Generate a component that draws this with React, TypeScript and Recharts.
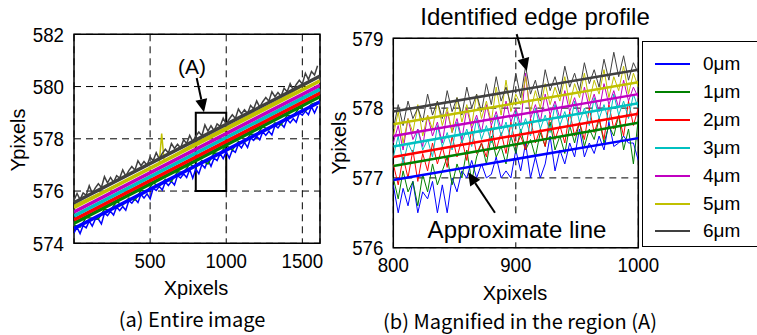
import React from "react";
import { CartesianGrid, Line, LineChart, ReferenceArea, ReferenceLine, XAxis, YAxis } from "recharts";

// series names and colours (Matlab-like)
const seriesNames = ["0μm", "1μm", "2μm", "3μm", "4μm", "5μm", "6μm"];
const seriesColors = ["#0000ff", "#008000", "#ff0000", "#00c0c0", "#c000c0", "#c0c000", "#404040"];

// (a) entire image: approximate lines at x = 0 and x = 1616
const entireX = [0, 1616];
const entireStart = [574.57, 574.77, 574.9, 575.05, 575.2, 575.37, 575.55];
const entireEnd = [579.42, 579.62, 579.75, 579.9, 580.05, 580.22, 580.4];

// (a) identified edge profiles
const entryX20 = [
  0, 20, 40, 60, 80, 100, 120, 140, 160, 180, 200, 220, 240, 260, 280, 300, 320, 340, 360, 380,
  400, 420, 440, 460, 480, 500, 520, 540, 560, 580, 600, 620, 640, 660, 680, 700, 720, 740, 760, 780,
  800, 820, 840, 860, 880, 900, 920, 940, 960, 980, 1000, 1020, 1040, 1060, 1080, 1100, 1120, 1140, 1160, 1180,
  1200, 1220, 1240, 1260, 1280, 1300, 1320, 1340, 1360, 1380, 1400, 1420, 1440, 1460, 1480, 1500, 1520, 1540, 1560, 1580,
  1600,
];
const entireBlue = [
  574.4, 574.61, 574.37, 574.68, 574.59, 574.85, 574.66, 574.92, 574.93, 574.74,
  575.15, 575.06, 575.22, 575.08, 575.39, 575.25, 575.41, 575.27, 575.63, 575.54,
  575.7, 575.56, 575.87, 575.73, 575.89, 575.7, 576.11, 576.02, 576.18, 576.04,
  576.35, 576.21, 576.37, 576.23, 576.59, 576.5, 576.66, 576.52, 576.83, 576.49,
  576.85, 576.66, 577.02, 576.88, 577.19, 576.95, 577.26, 577.17, 577.43, 577.24,
  577.5, 577.26, 577.57, 577.48, 577.79, 577.65, 577.86, 577.67, 578.03, 577.94,
  578.1, 577.96, 578.27, 578.13, 578.29, 578.15, 578.51, 578.42, 578.58, 578.44,
  578.75, 578.61, 578.77, 578.63, 578.99, 578.9, 579.06, 578.92, 579.23, 578.99,
  579.25,
];
const entireGray = [
  575.65, 575.91, 575.67, 575.93, 575.84, 576.2, 575.91, 576.12, 576.28, 576.14,
  576.55, 576.31, 576.52, 576.33, 576.59, 576.5, 576.81, 576.57, 576.78, 576.94,
  576.8, 577.16, 576.97, 577.13, 576.99, 577.3, 577.16, 577.47, 577.23, 577.44,
  577.6, 577.46, 577.82, 577.63, 577.79, 577.65, 577.96, 577.82, 578.13, 577.89,
  578.1, 578.26, 578.12, 578.53, 578.29, 578.5, 578.31, 578.57, 578.48, 578.79,
  578.55, 578.76, 578.92, 578.78, 579.14, 578.95, 579.11, 578.97, 579.28, 579.14,
  579.45, 579.21, 579.42, 579.58, 579.44, 579.8, 579.61, 579.77, 579.63, 579.94,
  579.8, 580.11, 579.87, 580.08, 580.24, 580.1, 580.51, 580.27, 580.58, 580.44,
  580.8,
];
const entryX40 = [
  0, 40, 80, 120, 160, 200, 240, 280, 320, 360, 400, 440, 480, 520, 560, 600, 640, 680, 720, 760,
  800, 840, 880, 920, 960, 1000, 1040, 1080, 1120, 1160, 1200, 1240, 1280, 1320, 1360, 1400, 1440, 1480, 1520, 1560,
  1600,
];
const entireGreen = [
  574.7, 574.62, 574.99, 574.96, 574.93, 575.3, 575.27, 575.59, 575.46, 575.73,
  575.65, 576.02, 575.99, 576.31, 576.18, 576.45, 576.37, 576.74, 576.71, 577.03,
  576.9, 577.17, 577.04, 577.46, 577.43, 577.75, 577.57, 577.89, 577.86, 578.18,
  578.15, 578.47, 578.34, 578.61, 578.53, 578.9, 578.87, 579.19, 579.06, 579.33,
  579.4,
];
const yellowX = [0, 200, 400, 540, 560, 576, 592, 620, 800, 1000, 1200, 1400, 1600];
const entireYellow = [575.45, 576.0, 576.6, 577.0, 577.05, 578.2, 577.15, 577.25, 577.85, 578.45, 579.05, 579.65, 580.35];

// (b) magnified region (A): approximate lines at 800 and 1000
const zoomX = [800, 1000];
const zoomStart = [576.97, 577.17, 577.3, 577.45, 577.6, 577.77, 577.95];
const zoomEnd = [577.57, 577.79, 577.92, 578.07, 578.2, 578.37, 578.55];

// (b) identified edge profiles every 4 px
const profileX = [
  800, 804, 808, 812, 816, 820, 824, 828, 832, 836, 840, 844, 848, 852, 856, 860, 864, 868, 872, 876,
  880, 884, 888, 892, 896, 900, 904, 908, 912, 916, 920, 924, 928, 932, 936, 940, 944, 948, 952, 956,
  960, 964, 968, 972, 976, 980, 984, 988, 992, 996, 1000,
];
const profile0 = [
  576.9, 576.5, 576.85, 576.6, 576.95, 576.5, 576.8, 576.7, 576.95, 576.5, 576.9, 576.5, 577.0, 576.8, 577.1, 577.0, 577.25,
  577.0, 577.2, 577.0, 577.05, 577.3, 577.0, 577.1, 577.0, 577.4, 577.1, 577.5, 577.0, 577.3, 577.0, 577.2, 577.6, 577.1,
  577.4, 577.2, 577.5, 577.3, 577.7, 577.3, 577.5, 577.35, 577.6, 577.4, 577.8, 577.45, 577.5, 577.6, 577.5, 577.5, 577.25,
];
const profile1 = [
  577.0, 576.7, 577.1, 576.8, 576.95, 576.6, 577.05, 576.8, 577.2, 576.9, 577.1, 577.3, 576.9, 577.2, 577.0, 577.4, 576.95,
  577.3, 577.5, 577.2, 577.6, 577.3, 577.45, 577.2, 577.6, 577.35, 577.7, 577.4, 577.55, 577.3, 577.65, 577.45, 577.8, 577.4,
  577.6, 577.35, 577.75, 577.5, 577.8, 577.45, 577.7, 577.55, 577.85, 577.5, 577.75, 577.6, 577.9, 577.4, 577.7, 577.2, 577.85,
];
const profile2 = [
  577.2, 576.9, 577.3, 577.0, 577.4, 576.95, 577.35, 577.1, 577.5, 577.2, 577.45, 577.15, 577.6, 577.3, 577.55, 577.25, 577.7,
  577.35, 577.5, 577.3, 577.75, 577.4, 577.65, 577.35, 577.8, 577.45, 577.6, 577.4, 577.85, 577.5, 577.7, 577.45, 577.9, 577.55,
  577.75, 577.5, 577.95, 577.6, 577.8, 577.55, 578.0, 577.65, 577.85, 577.55, 578.05, 577.7, 577.9, 577.6, 578.1, 577.75, 578.0,
];
const profile3 = [
  577.3, 577.6, 577.2, 577.5, 577.35, 577.7, 577.4, 577.55, 577.3, 577.75, 577.45, 577.65, 577.4, 577.8, 577.5, 577.7, 577.45,
  577.85, 577.55, 577.75, 577.5, 577.9, 577.6, 577.8, 577.55, 577.95, 577.65, 577.85, 577.6, 578.0, 577.7, 577.9, 577.65, 578.05,
  577.75, 577.95, 577.7, 578.1, 577.8, 578.0, 577.75, 578.15, 577.85, 578.05, 577.8, 578.2, 577.9, 578.1, 577.85, 578.2, 578.0,
];
const profile4 = [
  577.5, 577.75, 577.4, 577.85, 577.55, 577.7, 577.45, 577.9, 577.6, 577.8, 577.5, 577.95, 577.65, 577.85, 577.55, 578.0, 577.7,
  577.9, 577.65, 578.05, 577.75, 577.95, 577.7, 578.1, 577.8, 578.0, 577.75, 578.5, 577.85, 578.05, 577.8, 578.2, 577.9, 578.1,
  577.85, 578.25, 577.95, 578.15, 577.9, 578.3, 578.0, 578.2, 577.95, 578.35, 578.05, 578.25, 578.0, 578.4, 578.1, 578.3, 578.15,
];
const profile5 = [
  577.6, 577.95, 577.5, 577.85, 577.65, 578.05, 577.6, 577.9, 577.7, 578.1, 577.75, 578.0, 577.65, 578.15, 577.8, 578.05, 577.75,
  578.2, 577.85, 578.1, 577.8, 578.3, 577.9, 578.4, 577.95, 578.2, 578.05, 578.45, 577.95, 578.25, 578.0, 578.35, 578.05, 578.3,
  578.1, 578.45, 578.05, 578.35, 578.15, 578.5, 578.1, 578.4, 578.2, 578.55, 578.15, 578.45, 578.25, 578.6, 578.2, 578.5, 578.3,
];
const profile6 = [
  577.7, 578.05, 577.75, 578.1, 577.85, 578.0, 577.8, 578.2, 577.9, 578.1, 577.85, 578.25, 577.95, 578.15, 577.9, 578.3, 578.0,
  578.2, 577.95, 578.35, 578.05, 578.45, 578.1, 578.3, 578.05, 578.5, 578.15, 578.6, 578.2, 578.4, 578.1, 578.55, 578.25, 578.45,
  578.2, 578.6, 578.3, 578.5, 578.25, 578.65, 578.35, 578.55, 578.3, 578.7, 578.4, 578.8, 578.45, 578.75, 578.4, 578.65, 578.5,
];
const profiles = [profile0, profile1, profile2, profile3, profile4, profile5, profile6];

const leftTicksX = [500, 1000, 1500];
const leftTicksY = [574, 576, 578, 580, 582];
const rightTicksX = [800, 900, 1000];
const rightTicksY = [576, 577, 578, 579];

const FONT = "'Liberation Sans', Arial, sans-serif";
const JP = "'Noto Sans CJK JP', sans-serif";

const toPoints = (xs: number[], ys: number[]) => xs.map((x, i) => ({ x, y: ys[i] }));

// narrow-looking tick labels as in the original
const XTick = (p: any) => (
  <text transform={`translate(${p.x},${p.y + 17}) scale(0.89,1)`} textAnchor="middle" dominantBaseline="central" fontSize={21} fontFamily={FONT} fill="#000">
    {p.payload.value}
  </text>
);
const YTick = (p: any) => (
  <text transform={`translate(${p.x - 10},${p.y}) scale(0.89,1)`} textAnchor="end" dominantBaseline="central" fontSize={21} fontFamily={FONT} fill="#000">
    {p.payload.value}
  </text>
);

const arrowShape = (p: any) => {
  const { x1, y1, x2, y2 } = p;
  const a = Math.atan2(y2 - y1, x2 - x1);
  const L = 13;
  const W = 6;
  const bx = x2 - L * Math.cos(a);
  const by = y2 - L * Math.sin(a);
  const pts = `${x2},${y2} ${bx + W * Math.sin(a)},${by - W * Math.cos(a)} ${bx - W * Math.sin(a)},${by + W * Math.cos(a)}`;
  return (
    <g>
      <line x1={x1} y1={y1} x2={bx} y2={by} stroke="#000" strokeWidth={2} />
      <polygon points={pts} fill="#000" />
    </g>
  );
};

const abs = (s: React.CSSProperties): React.CSSProperties => ({ position: "absolute", whiteSpace: "nowrap", ...s });

export default function App() {
  return (
    <div style={{ position: "absolute", left: 0, top: 0, width: 757, height: 335, background: "#fff", overflow: "hidden" }}>
      {/* (a) Entire image */}
      <div style={abs({ left: 0, top: 0 })}>
        <LineChart width={340} height={300} margin={{ top: 34.3, right: 20, bottom: 26.7, left: 0 }}>
          <CartesianGrid stroke="#000" strokeDasharray="7 5" strokeWidth={1} />
          <XAxis type="number" dataKey="x" domain={[0, 1616]} ticks={leftTicksX} axisLine={false} tickLine={false} tickSize={0} tickMargin={0} height={30} tick={<XTick />} allowDataOverflow />
          <YAxis type="number" dataKey="y" domain={[574, 582]} ticks={leftTicksY} axisLine={false} tickLine={false} tickSize={0} tickMargin={0} width={74} tick={<YTick />} allowDataOverflow />
          <Line data={toPoints(entryX20, entireBlue)} dataKey="y" stroke={seriesColors[0]} strokeWidth={1.5} dot={false} isAnimationActive={false} />
          <Line data={toPoints(entryX40, entireGreen)} dataKey="y" stroke={seriesColors[1]} strokeWidth={1.5} dot={false} isAnimationActive={false} />
          <Line data={toPoints(yellowX, entireYellow)} dataKey="y" stroke={seriesColors[5]} strokeWidth={1.5} dot={false} isAnimationActive={false} />
          <Line data={toPoints(entryX20, entireGray)} dataKey="y" stroke={seriesColors[6]} strokeWidth={1.5} dot={false} isAnimationActive={false} />
          {seriesNames.map((n, i) => (
            <Line key={n} data={toPoints(entireX, [entireStart[i], entireEnd[i]])} dataKey="y" stroke={seriesColors[i]} strokeWidth={3.5} dot={false} isAnimationActive={false} />
          ))}
          <ReferenceArea x1={0} x2={1616} y1={574} y2={582} fill="none" stroke="#000" strokeWidth={1.5} ifOverflow="visible" />
          <ReferenceArea x1={800} x2={1000} y1={576} y2={579} fill="none" fillOpacity={0} stroke="#000" strokeWidth={2} ifOverflow="visible" />
          <ReferenceLine segment={[{ x: 806, y: 580.33 }, { x: 854, y: 579.02 }]} ifOverflow="visible" shape={arrowShape} />
        </LineChart>
      </div>

      {/* (b) Magnified in the region (A) */}
      <div style={abs({ left: 330, top: 0 })}>
        <LineChart width={360} height={300} margin={{ top: 38.3, right: 51.7, bottom: 22.3, left: 0 }}>
          <CartesianGrid stroke="#000" strokeDasharray="7 5" strokeWidth={1} />
          <XAxis type="number" dataKey="x" domain={[800, 1000]} ticks={rightTicksX} axisLine={false} tickLine={false} tickSize={0} tickMargin={0} height={30} tick={<XTick />} allowDataOverflow />
          <YAxis type="number" dataKey="y" domain={[576, 579]} ticks={rightTicksY} axisLine={false} tickLine={false} tickSize={0} tickMargin={0} width={63.3} tick={<YTick />} allowDataOverflow />
          {profiles.map((ys, i) => (
            <Line key={"p" + i} data={toPoints(profileX, ys)} dataKey="y" stroke={seriesColors[i]} strokeWidth={1} dot={false} isAnimationActive={false} />
          ))}
          {seriesNames.map((n, i) => (
            <Line key={n} data={toPoints(zoomX, [zoomStart[i], zoomEnd[i]])} dataKey="y" stroke={seriesColors[i]} strokeWidth={2.5} dot={false} isAnimationActive={false} />
          ))}
          <ReferenceArea x1={800} x2={1000} y1={576} y2={579} fill="none" stroke="#000" strokeWidth={1.5} ifOverflow="visible" />
          <ReferenceLine segment={[{ x: 900.7, y: 579.06 }, { x: 909, y: 578.53 }]} ifOverflow="visible" shape={arrowShape} />
          <ReferenceLine segment={[{ x: 883, y: 576.5 }, { x: 861, y: 577.08 }]} ifOverflow="visible" shape={arrowShape} />
        </LineChart>
      </div>

      {/* legend */}
      <div style={abs({ left: 642, top: 41, width: 140, height: 204, border: "1.5px solid #000", background: "#fff" })}>
        {seriesNames.map((n, i) => (
          <div key={n} style={abs({ left: 12, top: 9 + i * 27.9, height: 26, display: "flex", alignItems: "center" })}>
            <div style={{ width: 35, height: 2, background: seriesColors[i] }} />
            <span style={{ marginLeft: 13, fontFamily: FONT, fontSize: 19 }}>{n}</span>
          </div>
        ))}
      </div>

      {/* annotations */}
      <div style={abs({ left: 192, top: 67, transform: "translate(-50%,-50%)", fontFamily: FONT, fontSize: 21 })}>(A)</div>
      <div style={abs({ left: 535, top: 17, transform: "translate(-50%,-50%)", fontFamily: FONT, fontSize: 24 })}>Identified edge profile</div>
      <div style={abs({ left: 517, top: 230, transform: "translate(-50%,-50%)", fontFamily: FONT, fontSize: 24, background: "#fff", lineHeight: "24px" })}>Approximate line</div>

      {/* axis titles */}
      <div style={abs({ left: 196, top: 288, transform: "translate(-50%,-50%)", fontFamily: FONT, fontSize: 20 })}>Xpixels</div>
      <div style={abs({ left: 515, top: 293, transform: "translate(-50%,-50%)", fontFamily: FONT, fontSize: 20 })}>Xpixels</div>
      <div style={abs({ left: 18, top: 140, transform: "translate(-50%,-50%) rotate(-90deg)", fontFamily: FONT, fontSize: 20 })}>Ypixels</div>
      <div style={abs({ left: 339, top: 143, transform: "translate(-50%,-50%) rotate(-90deg)", fontFamily: FONT, fontSize: 20 })}>Ypixels</div>

      {/* captions */}
      <div style={abs({ left: 192, top: 318, transform: "translate(-50%,-50%)", fontFamily: JP, fontSize: 20 })}>(a) Entire image</div>
      <div style={abs({ left: 520, top: 320, transform: "translate(-50%,-50%)", fontFamily: JP, fontSize: 20 })}>(b) Magnified in the region (A)</div>
    </div>
  );
}
